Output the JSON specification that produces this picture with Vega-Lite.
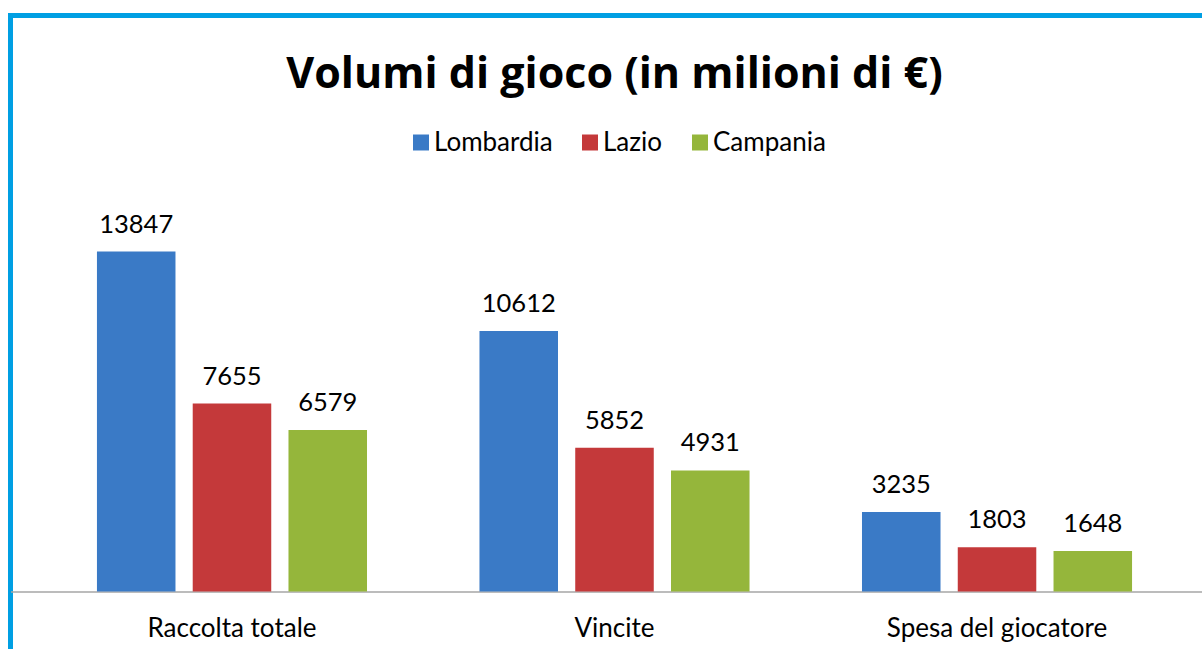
{
  "$schema": "https://vega.github.io/schema/vega-lite/v6.json",
  "width": 1208,
  "height": 650,
  "autosize": {"type": "none"},
  "padding": {"left": 10.5, "top": 15.5, "right": 0, "bottom": 0},
  "background": "white",
  "config": {"view": {"stroke": "#009FE3", "strokeWidth": 5}, "font": "Lato"},
  "title": {
    "text": "Volumi di gioco (in milioni di €)",
    "font": "Open Sans",
    "fontSize": 43,
    "fontWeight": "bold",
    "color": "black",
    "anchor": "middle",
    "baseline": "alphabetic",
    "offset": -115
  },
  "data": {
    "values": [
      {"cat": "Raccolta totale", "series": "Lombardia", "value": 13847},
      {"cat": "Raccolta totale", "series": "Lazio", "value": 7655},
      {"cat": "Raccolta totale", "series": "Campania", "value": 6579},
      {"cat": "Vincite", "series": "Lombardia", "value": 10612},
      {"cat": "Vincite", "series": "Lazio", "value": 5852},
      {"cat": "Vincite", "series": "Campania", "value": 4931},
      {"cat": "Spesa del giocatore", "series": "Lombardia", "value": 3235},
      {"cat": "Spesa del giocatore", "series": "Lazio", "value": 1803},
      {"cat": "Spesa del giocatore", "series": "Campania", "value": 1648}
    ]
  },
  "encoding": {
    "x": {
      "field": "cat",
      "type": "nominal",
      "sort": ["Raccolta totale", "Vincite", "Spesa del giocatore"],
      "scale": {"paddingInner": 0.294, "paddingOuter": 0.226},
      "axis": {
        "title": null,
        "orient": "bottom",
        "offset": -74,
        "ticks": false,
        "labelFontSize": 26,
        "labelFont": "Lato",
        "labelColor": "black",
        "labelPadding": 24,
        "labelAngle": 0,
        "labelLimit": 0,
        "domainColor": "#A6A6A6",
        "domainWidth": 1.5
      }
    },
    "xOffset": {
      "field": "series",
      "type": "nominal",
      "sort": ["Lombardia", "Lazio", "Campania"],
      "scale": {"paddingInner": 0.18}
    },
    "y": {
      "field": "value",
      "type": "quantitative",
      "scale": {"domain": [-3014, 23462], "nice": false, "zero": false},
      "axis": null
    }
  },
  "layer": [
    {
      "mark": {"type": "bar"},
      "encoding": {
        "y2": {"datum": 0},
        "color": {
          "field": "series",
          "type": "nominal",
          "sort": ["Lombardia", "Lazio", "Campania"],
          "scale": {
            "domain": ["Lombardia", "Lazio", "Campania"],
            "range": ["#3A7AC6", "#C4393A", "#95B63B"]
          },
          "legend": {
            "orient": "none",
            "legendX": 397.5,
            "legendY": 114,
            "direction": "horizontal",
            "title": null,
            "symbolType": "square",
            "symbolSize": 256,
            "symbolOpacity": 1,
            "symbolStrokeWidth": 0,
            "labelFontSize": 26,
            "labelFont": "Lato",
            "labelColor": "black",
            "labelOffset": 0,
            "columnPadding": 24,
            "padding": 0
          }
        }
      }
    },
    {
      "mark": {
        "type": "text",
        "dy": -19,
        "baseline": "alphabetic",
        "fontSize": 25.5,
        "font": "Lato",
        "color": "black"
      },
      "encoding": {"text": {"field": "value", "type": "quantitative", "format": "d"}}
    }
  ]
}
